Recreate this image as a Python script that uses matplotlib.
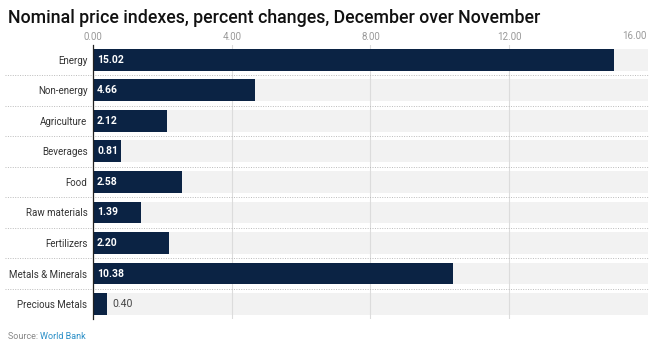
import matplotlib
matplotlib.use("Agg")
import matplotlib.pyplot as plt
import matplotlib.transforms as mtrans

categories = ["Energy", "Non-energy", "Agriculture", "Beverages", "Food",
              "Raw materials", "Fertilizers", "Metals & Minerals", "Precious Metals"]
values = [15.02, 4.66, 2.12, 0.81, 2.58, 1.39, 2.20, 10.38, 0.40]
ticks = [0, 4, 8, 12, 16]

plt.rcParams['font.family'] = ['Roboto', 'DejaVu Sans']

NAVY = '#0b2344'
fig = plt.figure(figsize=(6.5, 3.52), dpi=100)
ax = fig.add_axes([0.143, 0.093, 0.854, 0.78])

y = list(range(len(categories)))
h = 0.72
# background bands
ax.barh(y, [ticks[-1]] * len(y), height=h, color='#f2f2f2', zorder=0)
for t in ticks[1:-1]:
    ax.axvline(t, color='#dcdcdc', lw=0.8, zorder=1)
ax.barh(y, values, height=h, color=NAVY, zorder=2)

for i, v in enumerate(values):
    if v > 0.6:
        ax.text(0.12, i, f"{v:.2f}", color='white', fontsize=7.5,
                fontweight='bold', va='center', ha='left', zorder=3)
    else:
        ax.text(v + 0.15, i, f"{v:.2f}", color='#444444', fontsize=7.5,
                va='center', ha='left', zorder=3)

# dotted row separators
for i in range(len(y) - 1):
    ax.axhline(i + 0.5, xmin=-0.158, xmax=1.0, color='#bbbbbb', lw=0.7,
               ls=(0, (1, 1.5)), clip_on=False, zorder=1)

ax.set_xlim(0, 16)
ax.set_ylim(len(y) - 0.5, -0.5)
ax.set_yticks(y)
ax.set_yticklabels(categories, fontsize=7, color='#333333')
ax.set_xticks(ticks)
labels = [f"{t:.2f}" for t in ticks]
ax.set_xticklabels(labels[:-1] + [""], fontsize=7, color='#999999')
# last label pushed left so it stays inside the figure
trans = mtrans.blended_transform_factory(ax.transData, ax.transAxes)
ax.text(ticks[-1] - 0.05, 1.0 + 0.015, labels[-1], transform=trans, fontsize=7,
        color='#999999', ha='right', va='bottom')
ax.xaxis.tick_top()
ax.tick_params(axis='both', length=0, pad=4)
ax.tick_params(axis='x', pad=2)
for s in ['top', 'right', 'bottom']:
    ax.spines[s].set_visible(False)
ax.spines['left'].set_color('#222222')
ax.spines['left'].set_linewidth(0.9)
ax.spines['left'].set_zorder(4)

fig.text(0.012, 0.95, "Nominal price indexes, percent changes, December over November",
         fontsize=12.8, fontweight='medium', color='#111111', va='center', ha='left')
t1 = fig.text(0.012, 0.045, "Source: ", fontsize=6.5, color='#888888', va='center')
fig.canvas.draw()
bb = t1.get_window_extent()
fig.text(bb.x1 / fig.bbox.width, 0.045, "World Bank", fontsize=6.5,
         color='#2a8fc7', va='center')

fig.savefig("out.png", dpi=100)
